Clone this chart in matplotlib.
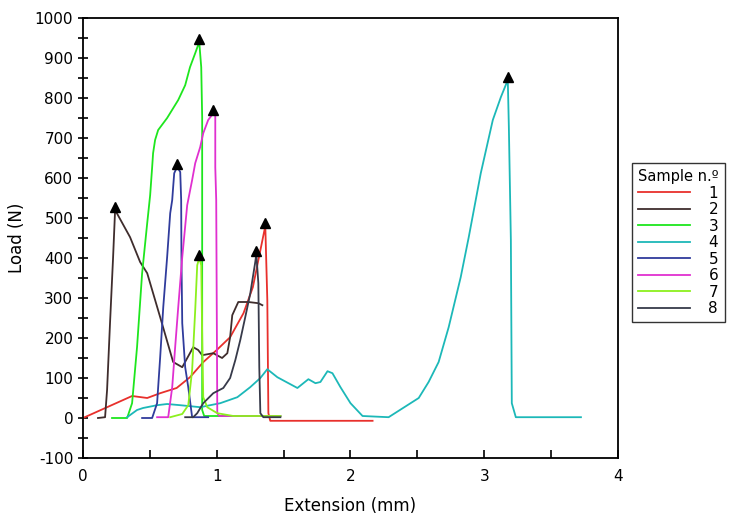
import matplotlib.pyplot as plt
from matplotlib.ticker import MultipleLocator

plt.rcParams["axes.unicode_minus"] = False

# Load-extension curves for 8 samples (extension in mm, load in N)
ext_1 = [0.0, 0.367, 0.48, 0.577, 0.70, 0.80, 0.90, 1.00, 1.10, 1.20, 1.27, 1.363, 1.378, 1.386, 1.40, 2.165]
load_1 = [0, 55, 50, 62, 75, 102, 140, 170, 202, 262, 327, 480, 295, 12, -7, -7]

ext_2 = [0.112, 0.165, 0.18, 0.202, 0.225, 0.24, 0.352, 0.427, 0.48, 0.577, 0.674, 0.742, 0.824,
         0.861, 0.891, 0.974, 1.04, 1.079, 1.10, 1.116, 1.161, 1.236, 1.311, 1.341]
load_2 = [0, 2, 70, 237, 402, 520, 452, 390, 362, 252, 140, 127, 177,
          170, 157, 162, 150, 162, 202, 257, 290, 290, 287, 282]

ext_3 = [0.217, 0.33, 0.367, 0.404, 0.442, 0.48, 0.502, 0.517, 0.524, 0.539, 0.562, 0.629, 0.712,
         0.764, 0.80, 0.839, 0.869, 0.884, 0.891, 0.891, 0.891, 0.906, 1.476]
load_3 = [0, 0, 37, 177, 362, 487, 557, 627, 662, 695, 720, 750, 795,
          832, 877, 912, 940, 877, 752, 545, 20, 5, 5]

ext_4 = [0.33, 0.404, 0.449, 0.554, 0.629, 0.727, 0.876, 1.026, 1.154, 1.25, 1.326, 1.378, 1.453,
         1.603, 1.685, 1.738, 1.775, 1.828, 1.865, 1.925, 2.0, 2.09, 2.285, 2.51, 2.584, 2.659,
         2.734, 2.824, 2.884, 2.974, 3.064, 3.124, 3.176, 3.184, 3.199, 3.206, 3.236, 3.723]
load_4 = [2, 20, 25, 32, 35, 32, 27, 37, 52, 77, 100, 122, 102,
          75, 97, 87, 90, 117, 112, 77, 37, 5, 2, 50, 90, 140,
          227, 352, 452, 612, 745, 802, 845, 727, 445, 37, 2, 2]

ext_5 = [0.442, 0.517, 0.554, 0.577, 0.60, 0.629, 0.652, 0.667, 0.674, 0.682, 0.704, 0.727, 0.734,
         0.736, 0.742, 0.764, 0.787, 0.816, 0.936]
load_5 = [0, 0, 37, 152, 277, 402, 512, 545, 577, 612, 628, 615, 545,
          402, 237, 127, 77, 2, 2]

ext_6 = [0.554, 0.637, 0.667, 0.689, 0.712, 0.742, 0.779, 0.816, 0.839, 0.876, 0.899, 0.936, 0.974,
         0.989, 0.989, 0.996, 1.004, 1.019, 1.476]
load_6 = [2, 2, 77, 177, 277, 402, 532, 595, 637, 677, 712, 745, 762,
          755, 627, 545, 12, 5, 5]

ext_7 = [0.652, 0.742, 0.787, 0.816, 0.839, 0.854, 0.869, 0.884, 0.891, 0.899, 0.929, 1.004, 1.124, 1.476]
load_7 = [2, 10, 32, 120, 270, 382, 400, 382, 212, 52, 27, 12, 5, 5]

ext_8 = [0.764, 0.824, 0.854, 0.899, 0.974, 1.049, 1.10, 1.139, 1.176, 1.213, 1.251, 1.288, 1.296,
         1.311, 1.318, 1.326, 1.348, 1.476]
load_8 = [2, 2, 12, 37, 62, 75, 100, 145, 195, 252, 312, 390, 410,
          337, 127, 12, 2, 2]

samples = ["1", "2", "3", "4", "5", "6", "7", "8"]
colors = ["#e8302c", "#3f2d2d", "#1ee61e", "#1cb8b8", "#303c9c", "#e030d0", "#8cf01e", "#373a4a"]
curves = [(ext_1, load_1), (ext_2, load_2), (ext_3, load_3), (ext_4, load_4),
          (ext_5, load_5), (ext_6, load_6), (ext_7, load_7), (ext_8, load_8)]

fig = plt.figure(figsize=(7.29, 5.18), dpi=100)
ax = fig.add_axes([83 / 729, 1 - 458 / 518, 535 / 729, 440 / 518])

for (x, y), c, name in zip(curves, colors, samples):
    ax.plot(x, y, color=c, lw=1.3, label=name)

# peak markers
for x, y in curves:
    i = max(range(len(y)), key=lambda k: y[k])
    ax.plot(x[i], y[i] + 8, marker="^", color="black", ms=7, ls="none", zorder=5)

ax.set_xlim(0, 4)
ax.set_ylim(-100, 1000)
ax.xaxis.set_major_locator(MultipleLocator(1))
ax.xaxis.set_minor_locator(MultipleLocator(0.5))
ax.yaxis.set_major_locator(MultipleLocator(100))
ax.yaxis.set_minor_locator(MultipleLocator(50))
ax.tick_params(axis="y", which="both", direction="inout", length=7, width=1.2, labelsize=11)
ax.tick_params(axis="x", which="both", direction="in", length=6, width=1.2, labelsize=11, pad=8)
for s in ax.spines.values():
    s.set_linewidth(1.3)

ax.set_xlabel("Extension (mm)", fontsize=12, labelpad=9)
ax.set_ylabel("Load (N)", fontsize=12, labelpad=6)

leg = ax.legend(title="Sample n.º", loc="upper left",
                bbox_to_anchor=(632 / 729, 1 - 163 / 518), bbox_transform=fig.transFigure,
                fontsize=11, title_fontsize=10.5, handlelength=3.4, handletextpad=1.2,
                labelspacing=0.1, borderaxespad=0, borderpad=0.4, fancybox=False, frameon=True,
                alignment="left")
leg.get_frame().set_edgecolor("black")
leg.get_frame().set_linewidth(1.0)

fig.savefig("out.png", dpi=100)
